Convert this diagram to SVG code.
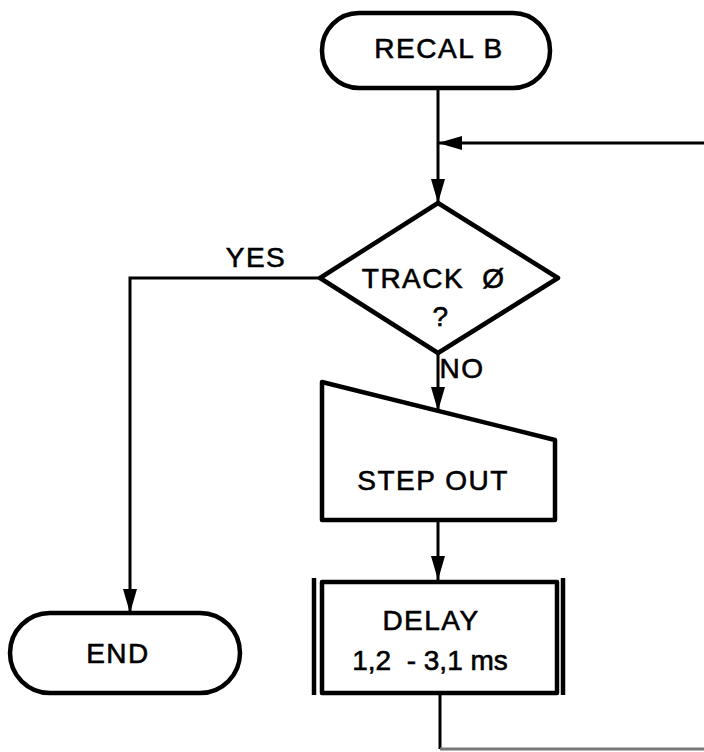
<svg xmlns="http://www.w3.org/2000/svg" width="704" height="752" viewBox="0 0 704 752">
<defs>
<style>
.shape{fill:#fff;stroke:#000;stroke-width:4.5;stroke-linejoin:round}
.bar{stroke:#000;stroke-width:4.5}
.conn{fill:none;stroke:#000;stroke-width:3}
.lbl{font-family:"Liberation Sans","DejaVu Sans",sans-serif;font-size:28px;fill:#000;stroke:#000;stroke-width:0.6;text-anchor:middle;letter-spacing:1.5px}
</style>
<marker id="arr" markerUnits="userSpaceOnUse" markerWidth="24" markerHeight="14" refX="24" refY="7" orient="auto">
<path d="M0,0 L24,7 L0,14 z" fill="#000"/>
</marker>
</defs>
<rect width="704" height="752" fill="#fff"/>
<g id="connectors">
<path class="conn" d="M438,88 L438,203" marker-end="url(#arr)"/>
<path class="conn" d="M704,143 L438,143" marker-end="url(#arr)"/>
<path class="conn" d="M320,278 L130,278 L130,613" marker-end="url(#arr)"/>
<path class="conn" d="M438,353 L438,411" marker-end="url(#arr)"/>
<path class="conn" d="M438,520 L438,580" marker-end="url(#arr)"/>
<path class="conn" d="M440,693 L440,749"/>
<path d="M440,749 L704,749" fill="none" stroke="#777" stroke-width="3"/>
<text class="lbl" x="256" y="267">YES</text>
<text class="lbl" x="462" y="378">NO</text>
</g>
<g id="recal">
<rect class="shape" x="322" y="13" width="228" height="75" rx="37"/>
<text class="lbl" x="439" y="58">RECAL B</text>
</g>
<g id="track">
<polygon class="shape" points="438,203 558,278 438,353 320,278"/>
<text class="lbl" x="413" y="288">TRACK</text>
<text class="lbl" x="494" y="288">Ø</text>
<text class="lbl" x="441" y="326">?</text>
</g>
<g id="stepout">
<polygon class="shape" points="322,382 555,440 555,520 322,520"/>
<text class="lbl" x="433" y="490">STEP OUT</text>
</g>
<g id="delay">
<rect class="shape" x="322" y="582" width="235" height="111"/>
<line class="bar" x1="314" y1="578" x2="314" y2="695"/>
<line class="bar" x1="563" y1="578" x2="563" y2="695"/>
<text class="lbl" x="431" y="630">DELAY</text>
<text class="lbl" x="430" y="670" style="letter-spacing:0" xml:space="preserve">1,2  - 3,1 ms</text>
</g>
<g id="end">
<rect class="shape" x="10" y="613" width="230" height="80" rx="40"/>
<text class="lbl" x="118" y="663">END</text>
</g>
</svg>
